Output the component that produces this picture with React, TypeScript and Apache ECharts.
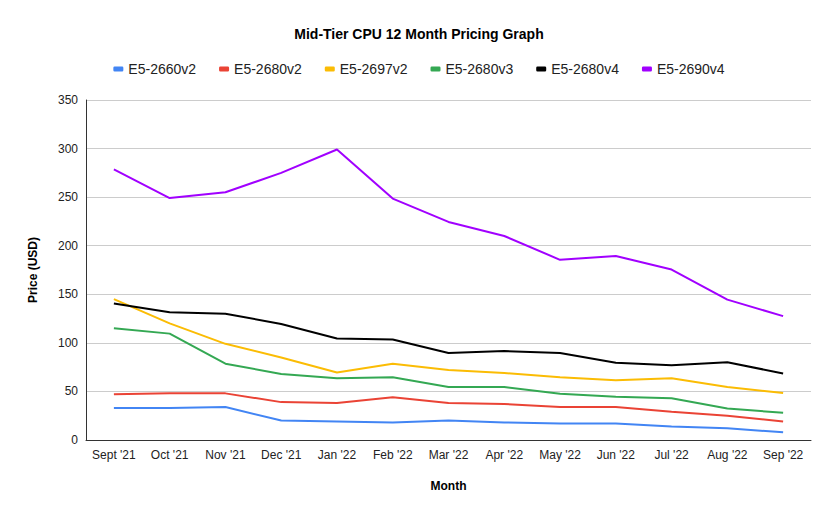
import React, { useEffect, useRef } from "react";
import * as echarts from "echarts";

const months = ["Sept '21", "Oct '21", "Nov '21", "Dec '21", "Jan '22", "Feb '22", "Mar '22", "Apr '22", "May '22", "Jun '22", "Jul '22", "Aug '22", "Sep '22"];
const e52660v2 = [33, 33, 34, 20, 19, 18, 20, 18, 17, 17, 14, 12, 8];
const e52680v2 = [47, 48, 48, 39, 38, 44, 38, 37, 34, 34, 29, 25, 19];
const e52697v2 = [145, 120, 99, 85, 69.5, 78.5, 72, 69, 64.5, 61.5, 63.5, 54.5, 48.5];
const e52680v3 = [115, 109.5, 78.5, 68, 63.5, 64.5, 54.5, 54.5, 47.5, 44.5, 43, 32.5, 28];
const e52680v4 = [140.5, 131.5, 130, 119.5, 104.5, 103.5, 89.5, 91.5, 89.5, 79.5, 77, 80, 68.5];
const e52690v4 = [278.5, 249, 255, 275, 299, 248.5, 224.5, 210, 185.5, 189.5, 175.5, 144.5, 127.5];

const seriesNames = ["E5-2660v2", "E5-2680v2", "E5-2697v2", "E5-2680v3", "E5-2680v4", "E5-2690v4"];
const seriesData = [e52660v2, e52680v2, e52697v2, e52680v3, e52680v4, e52690v4];
const colors = ["#4285f4", "#ea4335", "#fbbc04", "#34a853", "#000000", "#a100ff"];

export default function App() {
  const ref = useRef<HTMLDivElement>(null);
  useEffect(() => {
    if (!ref.current) return;
    const chart = echarts.init(ref.current, null, { renderer: "svg" });
    const font = "Arial, 'Liberation Sans', sans-serif";
    chart.setOption({
      animation: false,
      color: colors,
      textStyle: { fontFamily: font },
      title: {
        text: "Mid-Tier CPU 12 Month Pricing Graph",
        left: "center",
        top: 22,
        textStyle: { fontSize: 14, fontWeight: "bold", color: "#000", fontFamily: font },
      },
      legend: {
        top: 57,
        left: "center",
        itemWidth: 10,
        itemHeight: 5,
        itemGap: 23,
        icon: "roundRect",
        textStyle: { fontSize: 14, color: "#222", fontFamily: font },
        data: seriesNames,
      },
      grid: { left: 86, right: 27, top: 100, bottom: 79, containLabel: false },
      xAxis: {
        type: "category",
        data: months,
        boundaryGap: true,
        name: "Month",
        nameLocation: "middle",
        nameGap: 40,
        nameTextStyle: { fontSize: 12, fontWeight: "bold", color: "#000", fontFamily: font },
        axisLine: { lineStyle: { color: "#333", width: 1 } },
        axisTick: { show: false },
        axisLabel: { fontSize: 12, color: "#222", margin: 9, interval: 0, fontFamily: font },
      },
      yAxis: {
        type: "value",
        min: 0,
        max: 350,
        interval: 50,
        name: "Price (USD)",
        nameLocation: "middle",
        nameGap: 47,
        nameRotate: 90,
        nameTextStyle: { fontSize: 12, fontWeight: "bold", color: "#000", fontFamily: font },
        axisLine: { show: true, lineStyle: { color: "#333", width: 1 } },
        axisTick: { show: false },
        axisLabel: { fontSize: 12, color: "#222", margin: 8, fontFamily: font },
        splitLine: { lineStyle: { color: "#cccccc", width: 1 } },
      },
      series: seriesNames.map((n, i) => ({
        name: n,
        type: "line",
        data: seriesData[i],
        showSymbol: false,
        symbol: "none",
        lineStyle: { width: 2, color: colors[i] },
        itemStyle: { color: colors[i] },
      })),
    });
    return () => chart.dispose();
  }, []);
  return <div ref={ref} style={{ width: 838, height: 519, position: "absolute", left: 0, top: 0 }} />;
}
